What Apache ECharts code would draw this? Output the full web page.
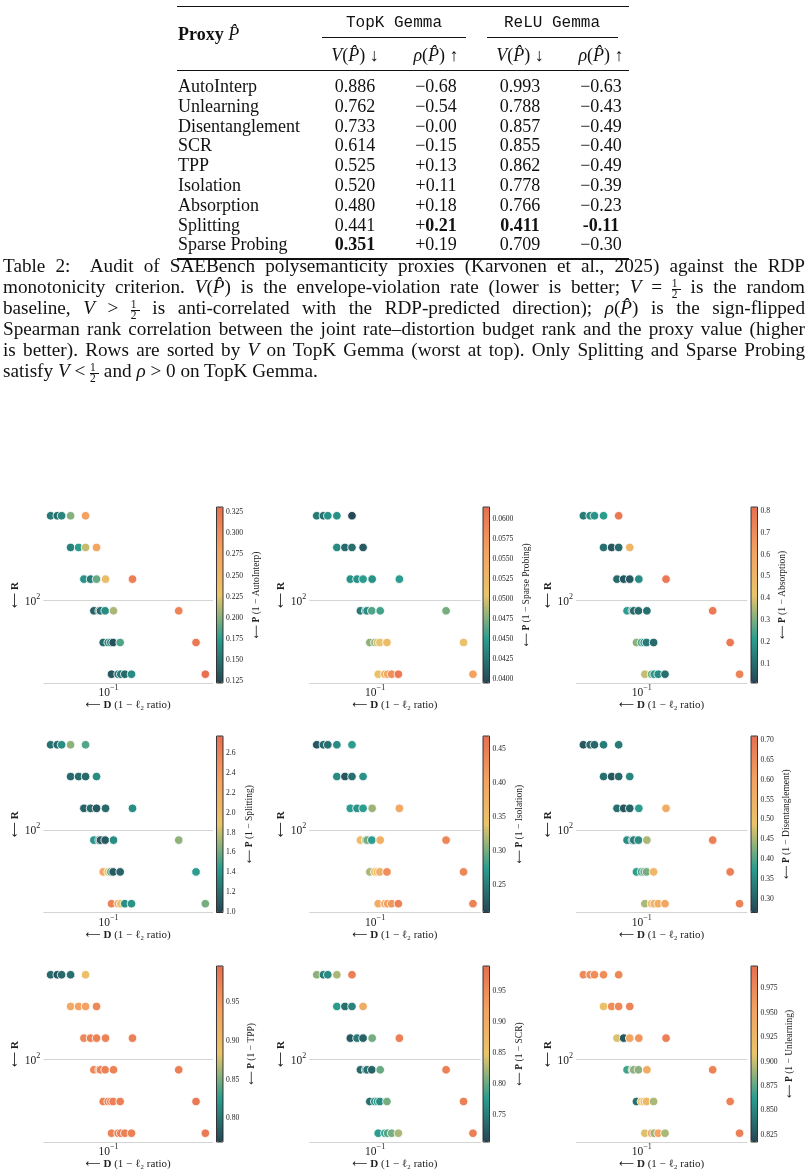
<!DOCTYPE html>
<html>
<head>
<meta charset="utf-8">
<script src="https://cdn.jsdelivr.net/npm/echarts@6/dist/echarts.min.js"></script>
<style>
html, body { margin: 0; padding: 0; background: #fff; }
#page { position: relative; width: 806px; height: 1175px; overflow: hidden; font-family: "Liberation Serif", "Times New Roman", serif; color: #111; }
#chart { position: absolute; left: 0; top: 0; width: 806px; height: 1175px; }
#table, #caption { position: absolute; left: 0; top: 0; z-index: 2; }
.c { position: absolute; transform: translate(-50%, -50%); white-space: nowrap; font-size: 18px; }
.l { position: absolute; transform: translateY(-50%); white-space: nowrap; font-size: 18px; }
.rule { position: absolute; background: #111; }
.tt { font-family: "Liberation Mono", "DejaVu Sans Mono", monospace; font-size: 16px; }
#caption { left: 3px; top: 254.5px; width: 802px; font-size: 19.2px; line-height: 21px; }
#caption div { text-align: justify; text-align-last: justify; height: 21px; }
#caption div.last { text-align-last: left; }
.frac { display: inline-block; position: relative; width: 9px; height: 10px; vertical-align: baseline; }
.frac .n, .frac .d { position: absolute; left: 0; right: 0; text-align: center; font-size: 11.5px; line-height: 9px; }
.frac .n { top: -4px; padding-bottom: 1px; border-bottom: 0.8px solid #111; }
.frac .d { top: 7px; }
</style>
</head>
<body>
<div id="page">
  <div id="chart"></div>
  <div id="table"></div>
  <div id="caption">
    <div>Table 2:&nbsp; Audit of SAEBench polysemanticity proxies (Karvonen et al., 2025) against the RDP</div>
    <div>monotonicity criterion. <i>V</i>(<i>P̂</i>) is the envelope-violation rate (lower is better; <i>V</i> = <span class="frac"><span class="n">1</span><span class="d">2</span></span> is the random</div>
    <div>baseline, <i>V</i> &gt; <span class="frac"><span class="n">1</span><span class="d">2</span></span> is anti-correlated with the RDP-predicted direction); <i>ρ</i>(<i>P̂</i>) is the sign-flipped</div>
    <div>Spearman rank correlation between the joint rate–distortion budget rank and the proxy value (higher</div>
    <div>is better). Rows are sorted by <i>V</i> on TopK Gemma (worst at top). Only Splitting and Sparse Probing</div>
    <div class="last">satisfy <i>V</i> &lt; <span class="frac"><span class="n">1</span><span class="d">2</span></span> and <i>ρ</i> &gt; 0 on TopK Gemma.</div>
  </div>
</div>
<script>
// ---- table data ----
const tableNames = ['AutoInterp', 'Unlearning', 'Disentanglement', 'SCR', 'TPP', 'Isolation', 'Absorption', 'Splitting', 'Sparse Probing'];
const vTopK = ['0.886', '0.762', '0.733', '0.614', '0.525', '0.520', '0.480', '0.441', '<b>0.351</b>'];
const rhoTopK = ['−0.68', '−0.54', '−0.00', '−0.15', '+0.13', '+0.11', '+0.18', '+<b>0.21</b>', '+0.19'];
const vReLU = ['0.993', '0.788', '0.857', '0.855', '0.862', '0.778', '0.766', '<b>0.411</b>', '0.709'];
const rhoReLU = ['−0.63', '−0.43', '−0.49', '−0.40', '−0.49', '−0.39', '−0.23', '<b>-0.11</b>', '−0.30'];

// ---- figure data ----
const cmap = ['#264653', '#2a9d8f', '#e9c46a', '#f4a261', '#e76f51'];
const rLevels = [640, 320, 160, 80, 40, 20];
const dRows = [
    [0.05137, 0.05548, 0.0583, 0.06465, 0.07682],
    [0.06465, 0.07089, 0.07682, 0.08717],
    [0.07537, 0.08136, 0.08717, 0.09667, 0.13186],
    [0.08455, 0.08989, 0.09128, 0.09629, 0.10598, 0.22454],
    [0.09413, 0.09968, 0.10278, 0.10558, 0.11442, 0.27403],
    [0.10358, 0.1118, 0.11529, 0.12071, 0.13035, 0.30508]
];
const pAutoInterp = [
    [0.154, 0.148, 0.160, 0.200, 0.279],
    [0.158, 0.175, 0.217, 0.273],
    [0.169, 0.154, 0.192, 0.237, 0.314],
    [0.140, 0.148, 0.148, 0.165, 0.210, 0.310],
    [0.144, 0.165, 0.154, 0.129, 0.185, 0.321],
    [0.133, 0.154, 0.154, 0.144, 0.165, 0.329]
];
const pSparseProbing = [
    [0.0428, 0.0421, 0.0443, 0.0443, 0.0397],
    [0.0439, 0.0417, 0.0421, 0.0408],
    [0.0443, 0.0443, 0.0450, 0.0443, 0.0450],
    [0.0428, 0.0428, 0.0439, 0.0461, 0.0457, 0.0472],
    [0.0479, 0.0483, 0.0494, 0.0505, 0.0516, 0.0509],
    [0.0509, 0.0545, 0.0549, 0.0582, 0.0604, 0.0560]
];
const pAbsorption = [
    [0.133, 0.173, 0.189, 0.214, 0.778],
    [0.109, 0.052, 0.093, 0.496],
    [0.093, 0.052, 0.052, 0.173, 0.778],
    [0.214, 0.076, 0.093, 0.093, 0.109, 0.778],
    [0.318, 0.254, 0.214, 0.133, 0.093, 0.778],
    [0.375, 0.294, 0.214, 0.173, 0.109, 0.737]
];
const pSplitting = [
    [1.213, 1.178, 1.355, 1.675, 1.533],
    [1.178, 1.178, 1.178, 1.355],
    [1.142, 1.178, 1.089, 1.178, 1.355],
    [1.391, 1.178, 1.089, 1.089, 1.355, 1.675],
    [2.278, 1.888, 1.533, 1.089, 1.142, 1.444],
    [2.598, 2.243, 1.888, 1.355, 1.391, 1.621]
];
const pIsolation = [
    [0.222, 0.235, 0.240, 0.261, 0.274],
    [0.261, 0.222, 0.240, 0.266],
    [0.274, 0.266, 0.274, 0.313, 0.391],
    [0.352, 0.313, 0.300, 0.274, 0.378, 0.438],
    [0.318, 0.352, 0.365, 0.378, 0.430, 0.438],
    [0.386, 0.396, 0.404, 0.417, 0.443, 0.443]
];
const pDisentanglement = [
    [0.288, 0.310, 0.310, 0.333, 0.333],
    [0.319, 0.288, 0.310, 0.346],
    [0.319, 0.288, 0.302, 0.377, 0.568],
    [0.355, 0.319, 0.333, 0.355, 0.452, 0.674],
    [0.377, 0.399, 0.408, 0.421, 0.532, 0.674],
    [0.452, 0.524, 0.541, 0.555, 0.586, 0.666]
];
const pTPP = [
    [0.7923, 0.7810, 0.7923, 0.7969, 0.8877],
    [0.9286, 0.9399, 0.9399, 0.9694],
    [0.9694, 0.9740, 0.9740, 0.9740, 0.9785],
    [0.9694, 0.9740, 0.9740, 0.9740, 0.9740, 0.9785],
    [0.9740, 0.9740, 0.9785, 0.9785, 0.9785, 0.9853],
    [0.9740, 0.9785, 0.9785, 0.9785, 0.9785, 0.9853]
];
const pSCR = [
    [0.814, 0.749, 0.763, 0.825, 0.967],
    [0.777, 0.740, 0.757, 0.899],
    [0.720, 0.749, 0.729, 0.805, 0.967],
    [0.734, 0.740, 0.740, 0.729, 0.800, 0.967],
    [0.740, 0.763, 0.768, 0.763, 0.805, 0.967],
    [0.777, 0.777, 0.791, 0.805, 0.825, 0.967]
];
const pUnlearning = [
    [0.9763, 0.9709, 0.9709, 0.9709, 0.9763],
    [0.9114, 0.9709, 0.9763, 0.9800],
    [0.9041, 0.8265, 0.9475, 0.9655, 0.9836],
    [0.8680, 0.8897, 0.8861, 0.8861, 0.9402, 0.9800],
    [0.8392, 0.9078, 0.9168, 0.9222, 0.8933, 0.9800],
    [0.9041, 0.9529, 0.8897, 0.9475, 0.8933, 0.9836]
];
const panelNames = ['AutoInterp', 'Sparse Probing', 'Absorption', 'Splitting', 'Isolation', 'Disentanglement', 'TPP', 'SCR', 'Unlearning'];
const panelValues = [pAutoInterp, pSparseProbing, pAbsorption, pSplitting, pIsolation, pDisentanglement, pTPP, pSCR, pUnlearning];
const cbMin = [0.123, 0.0395, 0.012, 0.993, 0.209, 0.266, 0.7696, 0.706, 0.8175];
const cbMax = [0.331, 0.0615, 0.818, 2.775, 0.469, 0.71, 0.9967, 0.990, 0.998];
const tickFirst = [0.125, 0.04, 0.1, 1.0, 0.25, 0.30, 0.80, 0.75, 0.825];
const tickLast = [0.325, 0.06, 0.8, 2.6, 0.45, 0.70, 0.95, 0.95, 0.975];
const tickStep = [0.025, 0.0025, 0.1, 0.2, 0.05, 0.05, 0.05, 0.05, 0.025];
const tickDigits = [3, 4, 1, 1, 2, 2, 2, 2, 3];

// axis ranges
const dMin = 0.04722, dMax = 0.3332;
const rMin = 16.5, rMax = 775;

// ---- table ----
(function buildTable() {
    const t = document.getElementById('table');
    let html = '';
    const rule = (x0, x1, y, h) => `<div class="rule" style="left:${x0}px;width:${x1 - x0}px;top:${y}px;height:${h}px"></div>`;
    html += rule(177, 629, 6.2, 1.3);
    html += rule(322, 466, 36.5, 0.8);
    html += rule(487, 618, 36.5, 0.8);
    html += rule(177, 629, 69.5, 0.8);
    html += rule(177, 629, 258.4, 1.3);
    html += '<div class="l" style="left:178px;top:34px"><b>Proxy</b> <i>P̂</i></div>';
    html += '<div class="c tt" style="left:394px;top:23px">TopK Gemma</div>';
    html += '<div class="c tt" style="left:552px;top:23px">ReLU Gemma</div>';
    const colX = [355, 436, 520, 601];
    const sub = ['<i>V</i>(<i>P̂</i>) ↓', '<i>ρ</i>(<i>P̂</i>) ↑', '<i>V</i>(<i>P̂</i>) ↓', '<i>ρ</i>(<i>P̂</i>) ↑'];
    sub.forEach((s, j) => { html += `<div class="c" style="left:${colX[j]}px;top:55px">${s}</div>`; });
    tableNames.forEach((name, i) => {
        const y = 86 + i * 19.8;
        html += `<div class="l" style="left:178px;top:${y}px">${name}</div>`;
        [vTopK[i], rhoTopK[i], vReLU[i], rhoReLU[i]].forEach((v, j) => {
            html += `<div class="c" style="left:${colX[j]}px;top:${y}px">${v}</div>`;
        });
    });
    t.innerHTML = html;
})();

// ---- figure ----
const serif = '"Liberation Serif", "DejaVu Serif", serif';
const colPlotL = [43.3, 309.3, 576];
const colPlotR = [213, 480.7, 747.3];
const colCbL = [216.5, 483, 751];
const cbW = 6.5;
const rowTop = [507, 736, 966];
const rowBot = [683, 912.5, 1142];
const cbNameDist = [33.7, 37.2, 25.2, 26.3, 29.8, 29.2, 28.7, 29.8, 31.8];

const supRich = {
    b: { fontSize: 11.5, fontFamily: serif, color: '#222', lineHeight: 15, verticalAlign: 'bottom' },
    s: { fontSize: 8, fontFamily: serif, color: '#222', verticalAlign: 'top' }
};
const nameRich = {
    a: { fontSize: 10.5, fontFamily: '"DejaVu Sans", sans-serif', color: '#222' },
    b: { fontSize: 11, fontFamily: serif, fontWeight: 'bold', color: '#222' }
};

const chart = echarts.init(document.getElementById('chart'));
const grid = [], xAxis = [], yAxis = [], series = [], visualMap = [];

panelNames.forEach((name, i) => {
    const col = i % 3, row = Math.floor(i / 3);
    const top = rowTop[row], h = rowBot[row] - rowTop[row];

    // scatter panel
    const g = grid.length;
    grid.push({ left: colPlotL[col], top: top, width: colPlotR[col] - colPlotL[col], height: h });
    xAxis.push({
        type: 'log', gridIndex: g, min: dMin, max: dMax,
        axisLine: { show: false }, axisTick: { show: false }, splitLine: { show: false },
        axisLabel: {
            margin: 1,
            formatter: v => Math.abs(Math.log10(v) + 1) < 1e-6 ? '{b|10}{s|−1}' : '',
            rich: supRich
        },
        name: '{a|⟵} {b|D} (1 − ℓ₂ ratio)', nameLocation: 'middle', nameGap: 14,
        nameTextStyle: { fontSize: 11, fontFamily: serif, color: '#222', rich: nameRich }
    });
    yAxis.push({
        type: 'log', gridIndex: g, min: rMin, max: rMax,
        axisLine: { show: false }, axisTick: { show: false },
        splitLine: { show: true, showMinLine: true, showMaxLine: false, lineStyle: { color: '#d4d4d4', width: 1 } },
        axisLabel: {
            margin: 3,
            formatter: v => Math.abs(Math.log10(v) - 2) < 1e-6 ? '{b|10}{s|2}' : '',
            rich: supRich
        },
        name: '{a|⟵} {b|R}', nameLocation: 'middle', nameRotate: 90, nameGap: 21,
        nameTextStyle: { fontSize: 11, fontFamily: serif, color: '#222', rich: nameRich }
    });
    const data = [];
    panelValues[i].forEach((rowVals, r) => {
        rowVals.forEach((p, k) => data.push([dRows[r][k], rLevels[r], p]));
    });
    series.push({
        type: 'scatter', xAxisIndex: g, yAxisIndex: g, data: data,
        symbolSize: 8.6,
        itemStyle: { borderColor: 'rgba(255,255,255,0.95)', borderWidth: 0.9, opacity: 1 },
        silent: true
    });
    visualMap.push({
        type: 'continuous', seriesIndex: series.length - 1, dimension: 2,
        min: cbMin[i], max: cbMax[i], inRange: { color: cmap },
        left: colCbL[col], top: top, itemWidth: cbW, itemHeight: h,
        calculable: false, padding: 0, hoverLink: false, text: null
    });

    // colorbar outline (+ label)
    const go = grid.length;
    grid.push({ left: colCbL[col], top: top, width: cbW, height: h, show: true, z: 10,
        borderColor: '#222', borderWidth: 0.9, backgroundColor: 'transparent' });
    xAxis.push({ type: 'value', gridIndex: go, show: false });
    yAxis.push({
        type: 'value', gridIndex: go, position: 'right', min: 0, max: 1,
        axisLine: { show: false }, axisTick: { show: false }, axisLabel: { show: false }, splitLine: { show: false },
        name: '{a|⟵} {b|P} (1 − ' + name + ')', nameLocation: 'middle', nameRotate: 90,
        nameGap: cbNameDist[i] - 5,
        nameTextStyle: { fontSize: 9.5, fontFamily: serif, color: '#222', rich: {
            a: { fontSize: 9.5, fontFamily: '"DejaVu Sans", sans-serif', color: '#222' },
            b: { fontSize: 9.5, fontFamily: serif, fontWeight: 'bold', color: '#222' }
        } }
    });

    // colorbar ticks: sub-grid spanning first..last tick
    const span = cbMax[i] - cbMin[i];
    const tTop = top + (cbMax[i] - tickLast[i]) / span * h;
    const tBot = top + (cbMax[i] - tickFirst[i]) / span * h;
    const gt = grid.length;
    grid.push({ left: colCbL[col], top: tTop, width: cbW, height: tBot - tTop });
    xAxis.push({ type: 'value', gridIndex: gt, show: false });
    yAxis.push({
        type: 'value', gridIndex: gt, position: 'right',
        min: tickFirst[i], max: tickLast[i], interval: tickStep[i],
        axisLine: { show: false }, splitLine: { show: false },
        axisTick: { show: true, length: 2.5, lineStyle: { color: '#222', width: 0.7 } },
        axisLabel: { margin: 3, fontSize: 7.6, fontFamily: serif, color: '#222',
            formatter: v => v.toFixed(tickDigits[i]) }
    });
});

chart.setOption({
    animation: false,
    grid: grid, xAxis: xAxis, yAxis: yAxis, visualMap: visualMap, series: series
});
</script>
</body>
</html>
